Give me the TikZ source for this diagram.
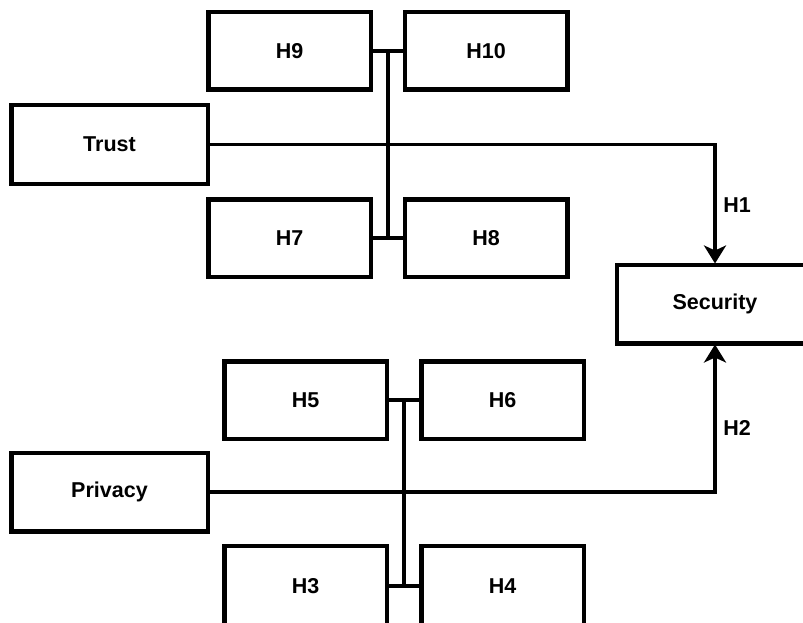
\documentclass[tikz,border=0pt]{standalone}
\usepackage{fontspec}
\setmainfont{Liberation Sans}
\usetikzlibrary{arrows.meta,calc}
\begin{document}
\begin{tikzpicture}[x=1pt,y=-1pt,
  box/.style={draw=black,line width=4.5pt,rectangle,inner sep=0pt,
    minimum width=162.5pt,minimum height=77.5pt,font=\fontsize{21.5}{24}\selectfont\bfseries},
  widebox/.style={box,minimum width=196.5pt,minimum height=78.5pt},
  cutbox/.style={box,minimum height=80pt},
  conn/.style={draw=black,line width=3.5pt},
  arr/.style={conn,-{Stealth[length=18pt,width=22pt,inset=5pt]}},
  lbl/.style={font=\fontsize{21.5}{24}\selectfont\bfseries,inner sep=0pt}]
\useasboundingbox[fill=white] (0,0) rectangle (803,623);
\begin{scope}
\clip (0,0) rectangle (803,623);
\node[box] (H9) at (289.5,51) {H9};
\node[box] (H10) at (486,51) {H10};
\node[widebox] (Trust) at (109.5,144.5) {Trust};
\node[box] (H7) at (289.5,238) {H7};
\node[box] (H8) at (486,238) {H8};
\node[widebox] (Sec) at (715,304) {Security};
\node[box] (H5) at (305.5,400) {H5};
\node[box] (H6) at (502.5,400) {H6};
\node[widebox] (Privacy) at (109.5,492) {Privacy};
\node[cutbox] (H3) at (305.5,586) {H3};
\node[cutbox] (H4) at (502.5,586) {H4};

\coordinate (b1) at (388,0);
\coordinate (b2) at (404,0);

% upper group
\draw[conn] (H9.east) -- (H10.west);
\draw[conn] (H7.east) -- (H8.west);
\draw[conn] (b1 |- H9.east) -- (b1 |- H7.east);
% lower group
\draw[conn] (H5.east) -- (H6.west);
\draw[conn] (H3.east) -- (H4.west);
\draw[conn] (b2 |- H5.east) -- (b2 |- H3.east);

% Trust -> Security
\draw[arr] (Trust.east) -| ([yshift=-1pt]Sec.north);
% Privacy -> Security
\draw[arr] (Privacy.east) -| ([yshift=1pt]Sec.south);

\node[lbl] (L1) at (737,205) {H1};
\node[lbl] (L2) at (737,428) {H2};
\end{scope}
\end{tikzpicture}
\end{document}
